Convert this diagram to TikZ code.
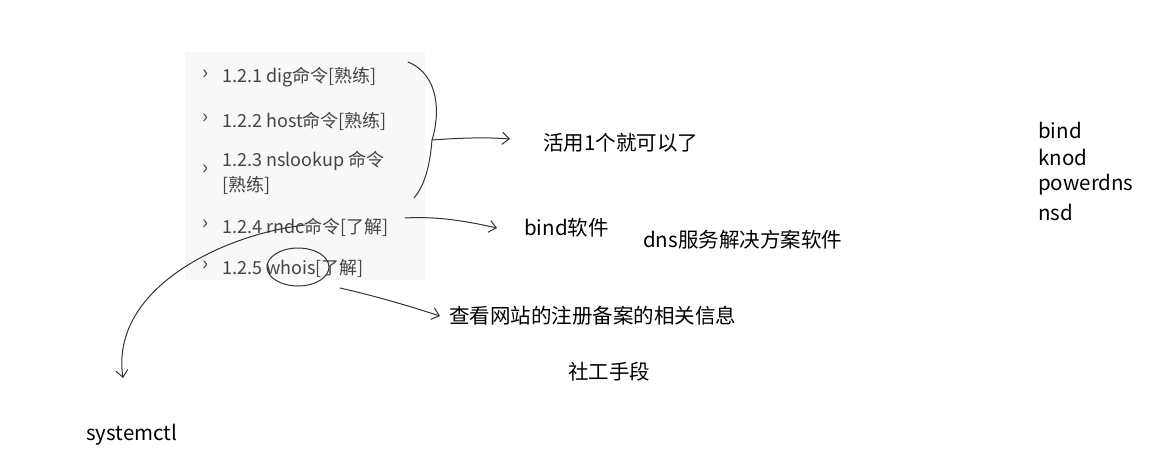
\documentclass[tikz,border=0pt]{standalone}
\usepackage{fontspec}
\setmainfont{Noto Sans CJK SC}
\usetikzlibrary{arrows.meta}
\definecolor{panel}{HTML}{F8F8F8}
\definecolor{itemc}{HTML}{444444}
\begin{document}
\begin{tikzpicture}[x=1pt,y=-1pt,
  item/.style={anchor=west,text=itemc,font=\fontsize{18}{22}\selectfont,inner sep=0},
  chev/.style={anchor=center,text=itemc,font=\fontsize{20}{22}\selectfont,inner sep=0},
  hand/.style={anchor=west,text=black,font=\fontsize{20.5}{24}\selectfont,inner sep=0},
  ink/.style={draw=black!80,line width=1pt,line cap=round},
  tip/.style={-{Straight Barb[length=7pt,width=12pt]}}]
\useasboundingbox (0,0) rectangle (1159,469);
\fill[panel] (185,52) rectangle (425,280);
\foreach \y/\n in {75/a,119/b,170/c,225/d,266/e}{\node[chev] (ch\n) at (206,\y) {›};}
\node[item] (i1) at (222,77) {1.2.1 dig命令[熟练]};
\node[item] (i2) at (222,121) {1.2.2 host命令[熟练]};
\node[item] (i3) at (222,161) {1.2.3 nslookup 命令};
\node[item] (i3b) at (222,185) {[熟练]};
\node[item] (i4) at (222,227) {1.2.4 rndc命令[了解]};
\node[item] (i5) at (222,268) {1.2.5 whois[了解]};
\node[hand] (t1) at (543,143) {活用1个就可以了};
\node[hand] (t2) at (524,228) {bind软件};
\node[hand] (t3) at (643,240) {dns服务解决方案软件};
\node[hand] (t4) at (449,316) {查看网站的注册备案的相关信息};
\node[hand] (t5) at (568,372) {社工手段};
\node[hand] (t6) at (86,435) {systemctl};
\node[hand] (l1) at (1038,130) {bind};
\node[hand] (l2) at (1038,157) {knod};
\node[hand] (l3) at (1038,185) {powerdns};
\node[hand] (l4) at (1038,212) {nsd};
\coordinate (bt) at (408,62);
\coordinate (bm) at (432,140);
\coordinate (bb) at (414,198);
\draw[ink] (bt) .. controls (440,75) and (440,115) .. (bm) .. controls (430,165) and (425,185) .. (bb);
\coordinate (a1e) at (510,139);
\draw[ink,tip] (bm) .. controls (460,138) and (485,137) .. (a1e);
\coordinate (a2s) at (405,218);
\coordinate (a2e) at (497,228);
\draw[ink,tip] (a2s) .. controls (440,216) and (470,222) .. (a2e);
\draw[ink] (298,267) ellipse [x radius=31,y radius=19];
\coordinate (a3s) at (340,288);
\coordinate (a3e) at (440,316);
\draw[ink,tip] (a3s) .. controls (380,297) and (415,308) .. (a3e);
\coordinate (a4s) at (305,225);
\coordinate (a4e) at (123,378);
\draw[ink,tip] (a4s) .. controls (220,235) and (110,290) .. (a4e);
\end{tikzpicture}
\end{document}
